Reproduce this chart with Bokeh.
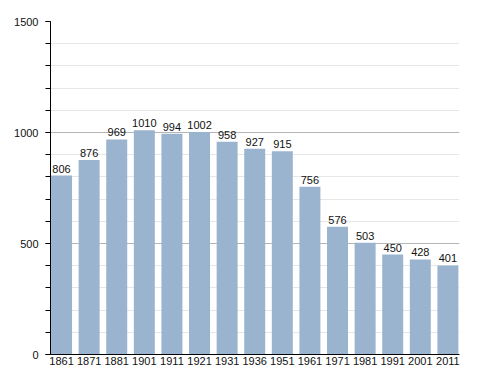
from bokeh.plotting import figure
from bokeh.models import ColumnDataSource, SingleIntervalTicker, FixedTicker, Range1d
from bokeh.core.properties import value
from bokeh.embed import file_html
from bokeh.resources import INLINE

years = ["1861", "1871", "1881", "1901", "1911", "1921", "1931", "1936",
         "1951", "1961", "1971", "1981", "1991", "2001", "2011"]
population = [806, 876, 969, 1010, 994, 1002, 958, 927, 915, 756, 576, 503, 450, 428, 401]

idx = list(range(len(years)))
src = ColumnDataSource(dict(x=idx, y=population, label=[str(v) for v in population]))

p = figure(width=480, height=367, output_backend="svg", toolbar_location=None,
           x_range=Range1d(-0.4, len(years) - 1 + 0.42), y_range=Range1d(0, 1500),
           min_border_left=50, min_border_right=21, min_border_top=21, min_border_bottom=0)
p.outline_line_color = None
p.background_fill_color = "white"

p.vbar(x="x", top="y", width=0.76, source=src, fill_color="#9ab3cf", line_color=None)

p.text(x="x", y="y", text="label", source=src, text_align="center", text_baseline="bottom",
       y_offset=-3, text_font=value("Liberation Sans"), text_font_size="11px", text_color="#111111")

# y axis
p.yaxis.ticker = SingleIntervalTicker(interval=500, num_minor_ticks=5)
p.yaxis.major_tick_out = 5
p.yaxis.major_tick_in = 0
p.yaxis.minor_tick_out = 5
p.yaxis.minor_tick_in = 0
p.yaxis.major_label_standoff = 7
p.yaxis.axis_line_color = "black"
p.yaxis.major_tick_line_color = "black"
p.yaxis.minor_tick_line_color = "black"
p.yaxis.major_label_text_font = "Liberation Sans"
p.yaxis.major_label_text_font_size = "11px"
p.yaxis.major_label_text_color = "#111111"

p.ygrid.ticker = SingleIntervalTicker(interval=500, num_minor_ticks=5)
p.ygrid.grid_line_color = "#b5b5b5"
p.ygrid.minor_grid_line_color = "#e6e6e6"
p.ygrid.level = "underlay"
p.xgrid.grid_line_color = None

# x axis
p.xaxis.ticker = FixedTicker(ticks=idx)
p.xaxis.major_label_overrides = {i: y for i, y in zip(idx, years)}
p.xaxis.major_tick_out = 0
p.xaxis.major_tick_in = 0
p.xaxis.minor_tick_out = 0
p.xaxis.minor_tick_in = 0
p.xaxis.major_label_standoff = 2
p.xaxis.axis_line_color = "black"
p.xaxis.major_label_text_font = "Liberation Sans"
p.xaxis.major_label_text_font_size = "11px"
p.xaxis.major_label_text_color = "#111111"

open("out.html", "w").write(file_html(p, INLINE))
